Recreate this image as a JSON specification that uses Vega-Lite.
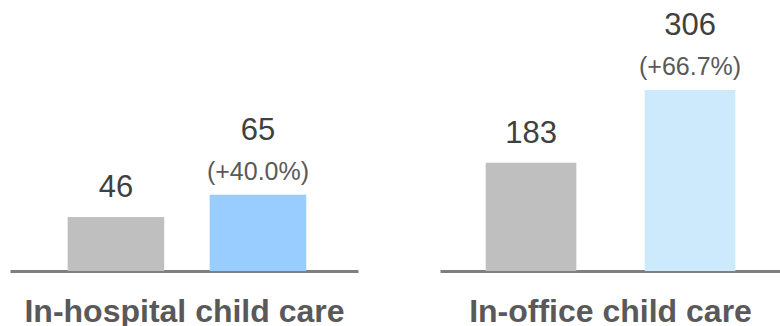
{
  "$schema": "https://vega.github.io/schema/vega-lite/v6.json",
  "padding": {"left": 10, "top": 0, "right": 0, "bottom": 0},
  "spacing": 82,
  "config": {
    "view": {"stroke": null},
    "font": "Liberation Sans",
    "axisX": {
      "labels": false,
      "ticks": false,
      "grid": false,
      "domainColor": "#7f7f7f",
      "domainWidth": 3,
      "titleFont": "Liberation Sans",
      "titleFontSize": 32,
      "titleFontWeight": "bold",
      "titleColor": "#595959",
      "titleBaseline": "alphabetic",
      "titlePadding": 50,
      "zindex": 1
    }
  },
  "data": {
    "values": [
      {"setting": "In-hospital child care", "period": "Before", "value": 46, "change": null},
      {"setting": "In-hospital child care", "period": "After", "value": 65, "change": "(+40.0%)"},
      {"setting": "In-office child care", "period": "Before", "value": 183, "change": null},
      {"setting": "In-office child care", "period": "After", "value": 306, "change": "(+66.7%)"}
    ]
  },
  "hconcat": [
    {
      "width": 348,
      "height": 271,
      "transform": [{"filter": "datum.setting === 'In-hospital child care'"}],
      "encoding": {
        "x": {
          "field": "period",
          "type": "nominal",
          "sort": ["Before", "After"],
          "scale": {"paddingInner": 0.32, "paddingOuter": 0.385, "align": 0.527},
          "axis": {"title": "In-hospital child care"}
        },
        "y": {
          "field": "value",
          "type": "quantitative",
          "scale": {"domain": [0, 231], "nice": false},
          "axis": null
        }
      },
      "layer": [
        {
          "mark": {"type": "bar"},
          "encoding": {
            "color": {
              "field": "period",
              "type": "nominal",
              "scale": {"domain": ["Before", "After"], "range": ["#bfbfbf", "#99ccff"]},
              "legend": null
            }
          }
        },
        {
          "transform": [{"filter": "datum.period === 'Before'"}],
          "mark": {"type": "text", "baseline": "alphabetic", "dy": -20, "fontSize": 31, "color": "#404040"},
          "encoding": {"text": {"field": "value", "type": "quantitative"}}
        },
        {
          "transform": [{"filter": "datum.period === 'After'"}],
          "mark": {"type": "text", "baseline": "alphabetic", "dy": -55, "fontSize": 31, "color": "#404040"},
          "encoding": {"text": {"field": "value", "type": "quantitative"}}
        },
        {
          "transform": [{"filter": "datum.period === 'After'"}],
          "mark": {"type": "text", "baseline": "alphabetic", "dy": -15, "fontSize": 25, "color": "#595959"},
          "encoding": {"text": {"field": "change", "type": "nominal"}}
        }
      ]
    },
    {
      "width": 340,
      "height": 271,
      "transform": [{"filter": "datum.setting === 'In-office child care'"}],
      "encoding": {
        "x": {
          "field": "period",
          "type": "nominal",
          "sort": ["Before", "After"],
          "scale": {"paddingInner": 0.43, "paddingOuter": 0.284, "align": 0.506},
          "axis": {"title": "In-office child care"}
        },
        "y": {
          "field": "value",
          "type": "quantitative",
          "scale": {"domain": [0, 458], "nice": false},
          "axis": null
        }
      },
      "layer": [
        {
          "mark": {"type": "bar"},
          "encoding": {
            "color": {
              "field": "period",
              "type": "nominal",
              "scale": {"domain": ["Before", "After"], "range": ["#bfbfbf", "#cdeafc"]},
              "legend": null
            }
          }
        },
        {
          "transform": [{"filter": "datum.period === 'Before'"}],
          "mark": {"type": "text", "baseline": "alphabetic", "dy": -20, "fontSize": 31, "color": "#404040"},
          "encoding": {"text": {"field": "value", "type": "quantitative"}}
        },
        {
          "transform": [{"filter": "datum.period === 'After'"}],
          "mark": {"type": "text", "baseline": "alphabetic", "dy": -55, "fontSize": 31, "color": "#404040"},
          "encoding": {"text": {"field": "value", "type": "quantitative"}}
        },
        {
          "transform": [{"filter": "datum.period === 'After'"}],
          "mark": {"type": "text", "baseline": "alphabetic", "dy": -15, "fontSize": 25, "color": "#595959"},
          "encoding": {"text": {"field": "change", "type": "nominal"}}
        }
      ]
    }
  ],
  "resolve": {"scale": {"x": "independent", "y": "independent", "color": "independent"}}
}
